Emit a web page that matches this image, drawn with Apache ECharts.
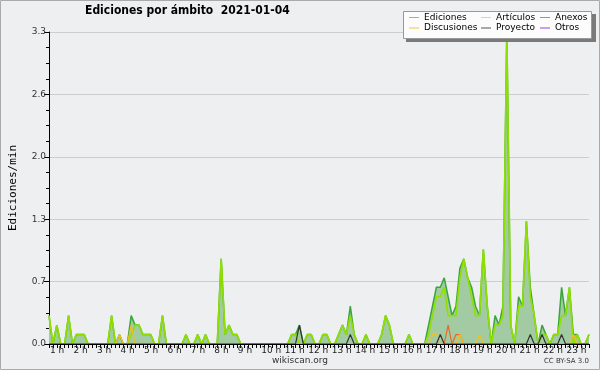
<!DOCTYPE html>
<html><head><meta charset="utf-8">
<script src="https://cdn.jsdelivr.net/npm/echarts/dist/echarts.min.js"></script>
<style>html,body{margin:0;padding:0;background:#eeeff1}#c{width:600px;height:370px}</style>
</head><body><div id="c"></div>
<script>
// 10-minute slots, first slot on the "1 h" tick
const ediciones = [
  0.3,0,0.2,0,0,0.3, 0,0.1,0.1,0.1,0,0,
  0,0,0,0,0.3,0, 0.1,0,0,0.3,0.2,0.2,
  0.1,0.1,0.1,0,0,0.3, 0,0,0,0,0,0.1,
  0,0,0.1,0,0.1,0, 0,0,0.9,0.1,0.2,0.1,
  0.1,0,0,0,0,0, 0,0,0,0,0,0,
  0,0,0.1,0.1,0.2,0, 0.1,0.1,0,0,0.1,0.1,
  0,0,0.1,0.2,0.1,0.4, 0.1,0,0,0.1,0,0,
  0,0.1,0.3,0.2,0,0, 0,0,0.1,0,0,0,
  0,0.2,0.4,0.6,0.6,0.7, 0.5,0.3,0.4,0.8,0.9,0.7,
  0.6,0.4,0.3,1.0,0.4,0, 0.3,0.2,0.4,3.3,0.2,0,
  0.5,0.4,1.3,0.6,0.3,0, 0.2,0.1,0,0.1,0.1,0.6,
  0.3,0.6,0.1,0.1,0,0,0.1
];
const articulos = [
  0.3,0,0.2,0,0,0.3, 0,0.1,0.1,0.1,0,0,
  0,0,0,0,0.3,0, 0,0,0,0.1,0.2,0.2,
  0.1,0.1,0.1,0,0,0.3, 0,0,0,0,0,0.1,
  0,0,0.1,0,0.1,0, 0,0,0.9,0.1,0.2,0.1,
  0.1,0,0,0,0,0, 0,0,0,0,0,0,
  0,0,0.1,0.1,0,0, 0.1,0.1,0,0,0.1,0.1,
  0,0,0.1,0.2,0.1,0.3, 0.1,0,0,0.1,0,0,
  0,0.1,0.3,0.2,0,0, 0,0,0.1,0,0,0,
  0,0.1,0.3,0.5,0.5,0.6, 0.3,0.3,0.3,0.7,0.9,0.7,
  0.5,0.3,0.3,1.0,0.4,0, 0.2,0.2,0.3,3.3,0.2,0,
  0.4,0.4,1.3,0.5,0.3,0, 0.1,0.1,0,0.1,0.1,0.3,
  0.3,0.6,0,0.1,0,0,0.1
];
const anexos = [
  0,0,0,0,0,0, 0,0,0,0,0,0,
  0,0,0,0,0,0, 0,0,0,0,0,0,
  0,0,0,0,0,0, 0,0,0,0,0,0,
  0,0,0,0,0,0, 0,0,0,0,0,0,
  0,0,0,0,0,0, 0,0,0,0,0,0,
  0,0,0,0,0,0, 0,0,0,0,0,0,
  0,0,0,0,0,0, 0,0,0,0,0,0,
  0,0,0,0,0,0, 0,0,0,0,0,0,
  0,0,0,0,0,0, 0.2,0,0.1,0.1,0,0,
  0,0,0,0,0,0, 0,0,0,0,0,0,
  0,0,0,0,0,0, 0,0,0,0,0,0,
  0,0,0,0,0,0,0
];
const discusiones = [
  0,0,0,0,0,0, 0,0,0,0,0,0,
  0,0,0,0,0,0, 0.1,0,0,0.2,0,0,
  0,0,0,0,0,0, 0,0,0,0,0,0,
  0,0,0,0,0,0, 0,0,0,0,0,0,
  0,0,0,0,0,0, 0,0,0,0,0,0,
  0,0,0,0,0,0, 0,0,0,0,0,0,
  0,0,0,0,0,0, 0,0,0,0,0,0,
  0,0,0,0,0,0, 0,0,0,0,0,0,
  0,0,0.1,0.1,0,0, 0,0,0,0.1,0,0,
  0,0,0.1,0,0,0, 0,0,0,0,0,0,
  0,0,0,0,0,0, 0,0,0,0,0,0,
  0,0,0.1,0,0,0,0
];
const proyecto = [
  0,0,0,0,0,0, 0,0,0,0,0,0,
  0,0,0,0,0,0, 0,0,0,0,0,0,
  0,0,0,0,0,0, 0,0,0,0,0,0,
  0,0,0,0,0,0, 0,0,0,0,0,0,
  0,0,0,0,0,0, 0,0,0,0,0,0,
  0,0,0,0,0.2,0, 0,0,0,0,0,0,
  0,0,0,0,0,0.1, 0,0,0,0,0,0,
  0,0,0,0,0,0, 0,0,0,0,0,0,
  0,0,0,0,0.1,0, 0,0,0,0,0,0,
  0,0,0,0,0,0, 0,0,0,0,0,0,
  0,0,0,0.1,0,0, 0.1,0,0,0,0,0.1,
  0,0,0,0,0,0,0
];
const otros = [];

const FIRST_HOUR = 1, SLOT = 1 / 6, LAST_LABEL = 23;
const pts = arr => arr.map((v, i) => [FIRST_HOUR + i * SLOT, v]);

const chart = echarts.init(document.getElementById('c'), null, {renderer: 'canvas'});
const legBase = {
  padding: 0, itemWidth: 10, itemHeight: 1, icon: 'rect', itemGap: 0,
  selectedMode: false,
  textStyle: {fontFamily: 'DejaVu Sans', fontSize: 9, color: '#000'}
};
const leg = (name, color, left, top) => Object.assign({}, legBase, {
  left, top, data: [{name, itemStyle: {color}}]
});
const line = (name, data, color, width, extra) => Object.assign({
  name, type: 'line', data: pts(data), symbol: 'none', showSymbol: false,
  lineStyle: {color, width}, itemStyle: {color}, z: 2
}, extra || {});

chart.setOption({
  animation: false,
  backgroundColor: '#eeeff1',
  title: {
    text: 'Ediciones por ámbito  2021-01-04', left: 85, top: 5, padding: 0,
    textStyle: {fontFamily: 'DejaVu Sans Condensed', fontWeight: 'bold', fontSize: 12, color: '#000'}
  },
  legend: [
    leg('Ediciones', '#7cc77c', 409, 13),
    leg('Artículos', '#c8ef5a', 481, 13),
    leg('Anexos', '#ee7a44', 540, 13),
    leg('Discusiones', '#f0c640', 409, 23.5),
    leg('Proyecto', '#555555', 481, 23.5),
    leg('Otros', '#9a3ff0', 540, 23.5)
  ],
  grid: {left: 46, right: 11, top: 32, bottom: 26},
  xAxis: {
    type: 'value', min: 1, max: 24, interval: 1, z: 5,
    axisLine: {lineStyle: {color: '#000', width: 1}},
    axisTick: {show: true, length: 4, lineStyle: {color: '#000'}},
    minorTick: {show: true, splitNumber: 6, length: 4, lineStyle: {color: '#000'}},
    splitLine: {show: false},
    axisLabel: {
      formatter: v => (Number.isInteger(v) && v <= LAST_LABEL) ? v + ' h' : '',
      align: 'left', margin: 2, padding: [0, 0, 0, 1],
      fontFamily: 'DejaVu Sans', fontSize: 9, color: '#222'
    }
  },
  yAxis: {
    type: 'value', min: 0, max: 3.3, interval: 0.66,
    name: 'Ediciones/min', nameLocation: 'middle', nameGap: 30,
    nameTextStyle: {fontFamily: 'DejaVu Sans Mono', fontSize: 11, color: '#000'},
    axisLine: {show: true, lineStyle: {color: '#000'}},
    axisTick: {show: true, length: 5, lineStyle: {color: '#000'}},
    minorTick: {show: true, splitNumber: 4, length: 3, lineStyle: {color: '#000'}},
    splitLine: {show: true, lineStyle: {color: '#cdcdcd'}},
    axisLabel: {formatter: v => v.toFixed(1), fontFamily: 'DejaVu Sans', fontSize: 9, color: '#333', margin: 3}
  },
  series: [
    line('Ediciones', ediciones, '#3aa53a', 1.5, {areaStyle: {color: '#a3cba3', opacity: 1}}),
    line('Artículos', articulos, '#8fe000', 1.7),
    line('Anexos', anexos, '#e8682a', 1.2),
    line('Discusiones', discusiones, '#f2bf1e', 1.2),
    line('Proyecto', proyecto, '#333333', 1.2),
    line('Otros', otros, '#9a3ff0', 1.2)
  ],
  graphic: {elements: [
    {type: 'rect', z: 3, silent: true, shape: {x: 406, y: 14, width: 190, height: 28}, style: {fill: '#7a7a7a'}},
    {type: 'rect', z: 3, silent: true, shape: {x: 403.5, y: 11.5, width: 188, height: 27}, style: {fill: '#fcfcfc', stroke: '#999', lineWidth: 1}},
    {type: 'text', z: 3, silent: true, x: 300, y: 361, style: {text: 'wikiscan.org', fill: '#333', font: '9px "DejaVu Sans"', align: 'center', verticalAlign: 'middle'}},
    {type: 'text', z: 3, silent: true, x: 589, y: 361, style: {text: 'CC BY-SA 3.0', fill: '#333', font: '7px "DejaVu Sans"', align: 'right', verticalAlign: 'middle'}},
    {type: 'rect', z: 10, silent: true, shape: {x: 0.5, y: 0.5, width: 599, height: 369}, style: {fill: 'none', stroke: '#aaaaaa', lineWidth: 1}}
  ]}
});
</script></body></html>
